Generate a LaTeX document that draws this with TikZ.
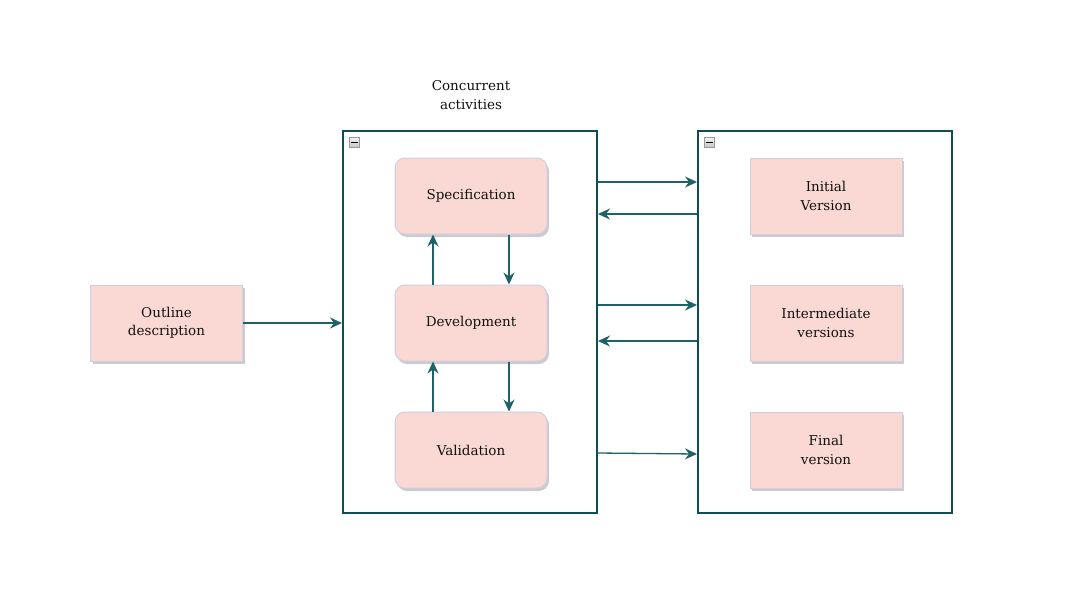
\documentclass[tikz,border=0pt]{standalone}
\usepackage{fontspec}
\setmainfont{DejaVu Serif}
\usepackage{xcolor}
\usepackage{tikz}
\usetikzlibrary{arrows.meta,positioning,calc,shadows}

\definecolor{boxfill}{HTML}{FAD9D5}
\definecolor{boxline}{HTML}{CFCDE3}
\definecolor{frameline}{HTML}{0E4D53}
\definecolor{arrowline}{HTML}{1E6167}
\definecolor{textcol}{HTML}{111111}

\tikzset{
  phase/.style={draw=boxline,fill=boxfill,line width=1pt,minimum width=152pt,minimum height=76pt,
    align=center,text=textcol,font=\fontsize{13.5}{18.5}\selectfont,
    drop shadow={shadow xshift=2pt,shadow yshift=-3pt,fill=black,opacity=.2}},
  activity/.style={phase,rounded corners=10pt},
  holder/.style={draw=frameline,line width=2pt,minimum width=254pt,minimum height=382pt},
  minusbox/.style={draw=gray!80,top color=gray!10,bottom color=gray!45,line width=.6pt,minimum size=10pt,inner sep=0pt}
}

\begin{document}
\begin{tikzpicture}[x=1pt,y=1pt,node distance=127pt,on grid,auto,
    every edge/.style={draw=arrowline,line width=1.3pt},>={Stealth[length=12pt,width=11pt,inset=4pt]}]
   \useasboundingbox (0,0) rectangle (1086,-590);
   \node[activity] (spec) at (471,-196) {Specification};
   \node[activity] (dev)  [below=of spec] {Development};
   \node[activity] (valid) [below=of dev] {Validation};
   \node[phase] (outline) [left=304.5pt of dev] {Outline\\description};
   \node[phase] (initial) [right=355pt of spec] {Initial\\Version};
   \node[phase] (inter) [below=of initial] {Intermediate\\versions};
   \node[phase] (final) [below=of inter] {Final\\version};
   \node[holder] (conc) at (470,-322) {};
   \node[holder] (vers) at (825,-322) {};
   \node[align=center,text=textcol,font=\fontsize{13.5}{18.5}\selectfont,above=101pt of spec] (title) {Concurrent\\activities};
   % collapse marks
   \node[minusbox,anchor=north west] (minusA) at ([shift={(7pt,-7pt)}]conc.north west) {};
   \node[minusbox,anchor=north west] (minusB) at ([shift={(7pt,-7pt)}]vers.north west) {};
   \draw[line width=1.6pt] ([xshift=2pt]minusA.west) -- ([xshift=-2pt]minusA.east);
   \draw[line width=1.6pt] ([xshift=2pt]minusB.west) -- ([xshift=-2pt]minusB.east);
   \path[->]
    (outline) edge (outline -| conc.west)
    ([xshift=38pt]spec.south) edge ([xshift=38pt]dev.north)
    ([xshift=-38pt]dev.north) edge ([xshift=-38pt]spec.south)
    ([xshift=38pt]dev.south) edge ([xshift=38pt]valid.north)
    ([xshift=-38pt]valid.north) edge ([xshift=-38pt]dev.south)
    ($(conc.east |- initial)+(0,14)$) edge ($(vers.west |- initial)+(0,14)$)
    ($(vers.west |- initial)+(0,-18)$) edge ($(conc.east |- initial)+(0,-18)$)
    ($(conc.east |- inter)+(0,18)$) edge ($(vers.west |- inter)+(0,18)$)
    ($(vers.west |- inter)+(0,-18)$) edge ($(conc.east |- inter)+(0,-18)$)
    ($(conc.east |- final)+(0,-3)$) edge ($(vers.west |- final)+(0,-4)$)
   ;
\end{tikzpicture}
\end{document}
